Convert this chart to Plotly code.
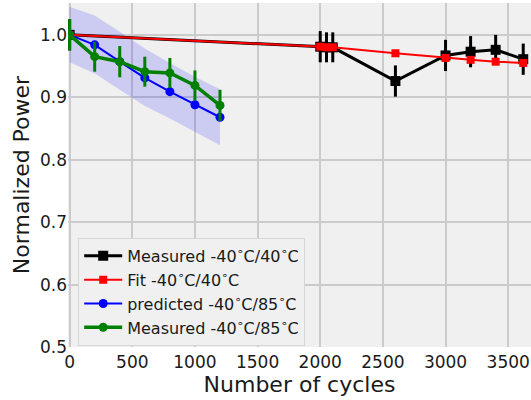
import plotly.graph_objects as go

# Measured -40C/40C
meas40_x = [0, 2000, 2050, 2100, 2600, 3000, 3200, 3400, 3620]
meas40_y = [1.0, 0.981, 0.980, 0.980, 0.926, 0.967, 0.973, 0.976, 0.961]
meas40_err = [0.025, 0.025, 0.024, 0.024, 0.025, 0.025, 0.025, 0.024, 0.025]

# Fit -40C/40C
fit40_x = [0, 2000, 2050, 2100, 2600, 3000, 3200, 3400, 3620]
fit40_y = [1.0, 0.981, 0.980, 0.980, 0.9705, 0.963, 0.960, 0.957, 0.955]

# predicted -40C/85C
pred85_x = [0, 200, 400, 600, 800, 1000, 1200]
pred85_y = [1.0, 0.984, 0.957, 0.931, 0.909, 0.888, 0.868]
band_upper = [1.045, 1.031, 1.005, 0.978, 0.955, 0.933, 0.913]
band_lower = [0.956, 0.938, 0.912, 0.886, 0.866, 0.845, 0.823]

# Measured -40C/85C
meas85_x = [0, 200, 400, 600, 800, 1000, 1200]
meas85_y = [1.0, 0.965, 0.957, 0.941, 0.939, 0.919, 0.887]
meas85_err = [0.025, 0.024, 0.025, 0.024, 0.024, 0.024, 0.025]

x_ticks = [0, 500, 1000, 1500, 2000, 2500, 3000, 3500]
y_ticks = [0.5, 0.6, 0.7, 0.8, 0.9, 1.0]

deg = "<sup>∘</sup>"
FONT = "DejaVu Sans"

fig = go.Figure()

# confidence band
fig.add_trace(go.Scatter(x=pred85_x, y=band_upper, mode="lines",
                         line=dict(width=0), showlegend=False, hoverinfo="skip"))
fig.add_trace(go.Scatter(x=pred85_x, y=band_lower, mode="lines",
                         line=dict(width=0), fill="tonexty",
                         fillcolor="rgba(0,0,255,0.15)", showlegend=False, hoverinfo="skip"))

fig.add_trace(go.Scatter(
    x=meas40_x, y=meas40_y, mode="lines+markers",
    name=f"Measured -40{deg}C/40{deg}C",
    line=dict(color="black", width=3),
    marker=dict(symbol="square", size=10, color="black"),
    error_y=dict(type="data", array=meas40_err, color="black", thickness=3, width=0),
))
fig.add_trace(go.Scatter(
    x=fit40_x, y=fit40_y, mode="lines+markers",
    name=f"Fit -40{deg}C/40{deg}C",
    line=dict(color="red", width=2),
    marker=dict(symbol="square", size=8, color="red"),
))
fig.add_trace(go.Scatter(
    x=pred85_x, y=pred85_y, mode="lines+markers",
    name=f"predicted -40{deg}C/85{deg}C",
    line=dict(color="blue", width=2),
    marker=dict(symbol="circle", size=9, color="blue"),
))
fig.add_trace(go.Scatter(
    x=meas85_x, y=meas85_y, mode="lines+markers",
    name=f"Measured -40{deg}C/85{deg}C",
    line=dict(color="green", width=3.5),
    marker=dict(symbol="circle", size=9, color="green"),
    error_y=dict(type="data", array=meas85_err, color="green", thickness=3, width=0),
))

fig.update_layout(
    width=531, height=400,
    margin=dict(l=68, r=0, t=3, b=53),
    paper_bgcolor="white",
    plot_bgcolor="#f0f0f0",
    font=dict(family=FONT, size=17, color="#1a1a1a"),
    legend=dict(
        x=0.022, y=0.317, xanchor="left", yanchor="top",
        bgcolor="#f0f0f0", bordercolor="#d6d6d6", borderwidth=1,
        font=dict(family=FONT, size=16, color="#1a1a1a"),
        tracegroupgap=0, traceorder="normal", itemwidth=38,
    ),
    xaxis=dict(
        range=[-13, 3682], tickvals=x_ticks, ticktext=[str(v) for v in x_ticks],
        showgrid=True, gridcolor="#cbcbcb", gridwidth=1.5, zeroline=False,
        title=dict(text="Number of cycles", font=dict(size=22), standoff=0),
        ticks="", tickfont=dict(size=17), showline=False,
        ticklabeloverflow="allow", ticklabelstandoff=3,
    ),
    yaxis=dict(
        range=[0.5, 1.051], tickvals=y_ticks, ticktext=[f"{v:.1f}" for v in y_ticks],
        showgrid=True, gridcolor="#cbcbcb", gridwidth=1.5, zeroline=False,
        title=dict(text="Normalized Power", font=dict(size=22), standoff=4),
        ticks="", tickfont=dict(size=17), showline=False,
    ),
)

fig.write_html("out.html")
